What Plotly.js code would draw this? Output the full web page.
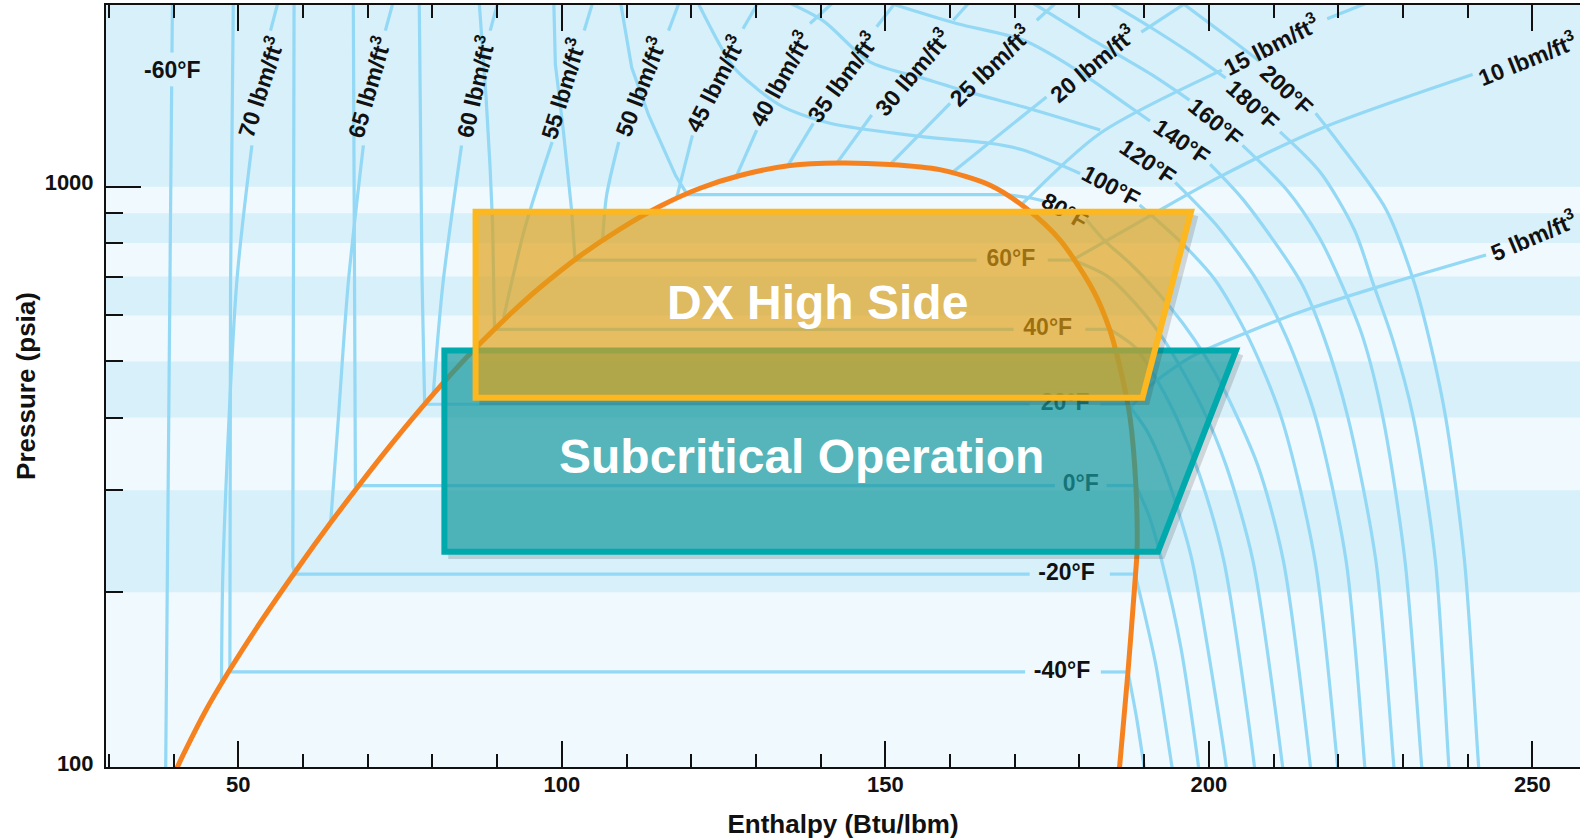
<!DOCTYPE html>
<html><head><meta charset="utf-8">
<script src="https://cdn.plot.ly/plotly-3.0.1.min.js"></script>
<style>html,body{margin:0;padding:0;background:#fff;}</style>
</head><body>
<div id="chart" style="width:1580px;height:839px"></div>
<script>
// ---------- DATA (enthalpy Btu/lbm, pressure psia) ----------
// saturation dome
const domeH = [40.2, 40.6, 44.85, 48.71, 53.35, 59.54, 64.17, 68.81, 73.44, 78.08, 82.72, 87.35, 91.99, 96.62, 102.81, 108.99, 115.17, 121.35, 127.53, 135.26, 142.99, 150.7, 158.4, 166.2, 171.8, 177.0, 182.1, 184.7, 186.6, 187.8, 188.7, 188.9, 188.6, 187.5, 186.2, 186.1];
const domeP = [97, 100, 124.4, 147.2, 177.1, 222.9, 262.7, 307.4, 357.6, 413.0, 473.0, 536.6, 602.9, 670.3, 760.0, 845.2, 925.2, 993.7, 1045.4, 1087.7, 1098.7, 1092, 1070, 1006, 917, 809, 663, 566, 470, 401, 308, 236.5, 210, 146, 100, 96];

// isotherms (null = gap for label)
const tm60H = [38.76, 39.24, 39.70, null, 39.75, 39.83];
const tm60P = [95, 400, 1489, null, 1703, 2100];
const tm40H = [49.23, 48.8, 48.7, 171.6, null, 183.3, 187.5, 188.8, 190.0, 190.3];
const tm40P = [2100, 680, 145.8, 145.8, null, 145.8, 145.8, 122, 100, 95];
const tm20H = [58.62, 58.45, 58.42, 58.74, 172.3, null, 184.7, 188.6, 190.0, 191.8, 194.3, 194.6];
const tm20P = [2100, 600, 222, 215, 215, null, 215, 215, 185, 150, 100, 95];
const t0H = [67.77, 68.0, 68.05, 68.1, 176.2, null, 184.2, 188.7, 190.8, 192.7, 195.7, 198.4, 198.6];
const t0P = [2100, 690, 330, 305.5, 305.5, null, 305.5, 305.5, 270, 227, 160, 100, 95];
const t20H = [77.96, 78.4, 78.8, 172.3, null, 183.2, 187.5, 190.4, 192.9, 195.1, 197.4, 202.7, 202.9];
const t20P = [2100, 690, 421.8, 421.8, null, 421.8, 421.8, 380, 330, 280, 227, 100, 95];
const t40H = [87.2, 88.3, 88.9, 89.3, 89.6, 169.8, null, 180.9, 184.7, 188.5, 191.2, 195.0, 198.5, 202.3, 207.05, 207.25];
const t40P = [2100, 1421, 1086, 863, 567.8, 567.8, null, 567.8, 567.8, 530, 480, 400, 320, 227, 100, 95];
const t60H = [98.75, 99.0, 100.2, 101.5, 102.05, 164.1, null, 175.1, 179.0, 184.4, 188.6, 192.8, 198.8, 202.7, 206.8, 211.4, 211.6];
const t60P = [2100, 1625, 1259, 913, 747.4, 747.4, null, 747.4, 747.4, 700, 630, 550, 420, 330, 227, 100, 95];
const t80H = [109.0, 110.8, 113.4, 117.6, 119.4, 168.5, 172.0, 175.0, null, 181.0, 183.8, 187.8, 191.8, 196.0, 199.5, 202.4, 207.6, 211.5, 215.7, 215.9];
const t80P = [2100, 1604, 1329, 1044, 969, 969, 958, 942, null, 880, 809, 738, 663, 581, 509, 446, 330, 227, 100, 95];
const t100H = [120.8, 126.5, 130.1, 134.2, 141.45, 155.9, 166.2, 171.3, 180.1, null, 189.3, 195.8, 201.0, 206.1, 211.2, 216.4, 219.9, 220.1];
const t100P = [2100, 1609, 1477, 1373, 1286, 1219, 1188, 1157, 1054, null, 930, 800, 690, 550, 400, 227, 100, 95];
const t120H = [134.1, 140.4, 147.6, 155.9, 163.6, 171.3, 183.2, null, 194.8, 201.5, 207.6, 212.0, 216.5, 221.2, 224.1, 224.3];
const t120P = [2100, 1931, 1641, 1537, 1448, 1373, 1252, null, 1017, 850, 685, 550, 400, 227, 100, 95];
const t140H = [149.0, 161.0, 171.3, 179.6, 186.3, 190.9, null, 200.2, 205.3, 214.2, 217.8, 221.5, 225.8, 228.6, 228.8];
const t140P = [2100, 1911, 1789, 1588, 1410, 1298, null, 1093, 950, 685, 550, 400, 227, 100, 95];
const t160H = [171.9, 175.45, 182.25, 191.1, 197.0, null, 205.2, 212.0, 217.0, 220.5, 223.8, 226.9, 230.3, 232.9, 233.1];
const t160P = [2100, 1988, 1785, 1561, 1410, null, 1178, 989, 820, 680, 550, 400, 227, 100, 95];
const t180H = [183.9, 191.1, 197.4, 202.6, null, 211.0, 217.25, 222.5, 225.4, 228.3, 231.6, 235.0, 237.1, 237.3];
const t180P = [2100, 1879, 1692, 1539, null, 1243, 1058, 842, 680, 550, 400, 227, 100, 95];
const t200H = [195.2, 203.7, 207.8, null, 216.5, 220.0, 227.4, 231.8, 234.0, 236.6, 239.5, 241.7, 241.9];
const t200P = [2100, 1785, 1647, null, 1338, 1193, 913, 680, 550, 400, 227, 100, 95];

// isochores (lbm/ft3)
const d70H = [47.4, 47.65, 49.74, 52.1, null, 54.98, 56.24];
const d70P = [139, 223.7, 680, 1178, null, 1858, 2100];
const d65H = [64.27, 65.42, 66.98, 69.33, null, 72.73, 74.03];
const d65P = [263.5, 393, 680, 1178, null, 1858, 2100];
const d60H = [80.1, 81.62, 84.5, null, 88.93, 90.22];
const d60P = [435, 680, 1178, null, 1858, 2100];
const d55H = [91.0, 94.3, 98.5, null, 103.46, 104.9];
const d55P = [594, 850, 1194, null, 1858, 2100];
const d50H = [106.3, 106.9, 108.8, null, 116.5, 118.3];
const d50P = [807, 963, 1194, null, 1858, 2100];
const d45H = [117.7, 120.18, null, 128.0, 130.6];
const d45P = [952, 1226, null, 1871, 2100];
const d40H = [127.0, 130.12, null, 138.36, 142.4];
const d40P = [1044, 1252, null, 1911, 2100];
const d35H = [134.9, 138.87, null, 148.66, 151.9];
const d35P = [1086, 1286, null, 1886, 2100];
const d30H = [142.5, 147.9, null, 160.5, 163.35];
const d30P = [1098, 1329, null, 1936, 2100];
const d25H = [150.7, 160.0, null, 173.4, 176.9];
const d25P = [1092, 1392, null, 1936, 2100];
const d20H = [160.2, 174.9, null, 189.56, 197.2];
const d20P = [1055, 1428, null, 1846, 2100];
const d15H = [171.0, 183.2, 202.0, null, 218.29, 225.7];
const d15P = [930, 1236, 1588, null, 1948, 2100];
const d10H = [179.16, 190.29, 201.73, 217.25, 240.76];
const d10P = [750, 883, 1040.5, 1259, 1561];
const d5H = [187.6, 191.07, 197.41, 206.37, 215.63, 227.69, 242.83];
const d5P = [412, 455, 510, 563.6, 616.6, 680, 762.7];

// labels
const rhoLabelText = ['70', '65', '60', '55', '50', '45', '40', '35', '30', '25', '20', '15', '10', '5'];
const rhoLabelH = [53.39, 70.12, 86.58, 100.07, 112.08, 123.58, 133.72, 143.25, 154.07, 166.17, 181.99, 209.66, 249.24, 250.17];
const rhoLabelP = [1489, 1489, 1489, 1479, 1489, 1510, 1537, 1547, 1578, 1620, 1636, 1761, 1669, 825];
const rhoLabelAngle = [-72, -74, -77, -73, -69, -63, -61, -54, -50, -44, -40, -27, -22, -23];

const tLabelText = ['100°F', '120°F', '140°F', '160°F', '180°F', '200°F'];
const tLabelH = [184.87, 190.6, 195.9, 201.04, 206.79, 212.01];
const tLabelP = [1002, 1103, 1195, 1294, 1384, 1469];
const tLabelAngle = [28, 34, 34, 39, 42, 43];

const t80Label = {text: '80°F', h: 177.9, p: 915, angle: 30};
const tm60Label = {text: '-60°F', h: 39.8, p: 1588};

const satLabelText = ['60°F', '40°F', '20°F', '0°F', '-20°F', '-40°F'];
const satLabelH = [169.4, 175.1, 177.8, 180.2, 178.0, 177.3];
const satLabelP = [747.4, 567.8, 421.8, 305.5, 215, 145.8];

// operating regions
const dxBoxH = [86.67, 197.24, 189.74, 86.67];
const dxBoxP = [905.7, 905.7, 433, 433];
const subBoxH = [81.85, 204.19, 192.14, 81.85];
const subBoxP = [522, 522, 235, 235];
const dxText = {text: 'DX High Side', h: 139.47, p: 632};
const subText = {text: 'Subcritical Operation', h: 136.97, p: 343};

// axis ticks / bands
const xMajor = [50, 100, 150, 200, 250];
const yMajor = [100, 1000];
const yMinor = [200, 300, 400, 500, 600, 700, 800, 900];
const bandLo = [200, 400, 600, 800, 1000];
const bandHi = [300, 500, 700, 900, 2100];

// ---------- STYLE ----------
const FONT = '"Liberation Sans", Arial, Helvetica, sans-serif';
const BLUE = '#93d8f5';
const ORANGE = '#f5821f';
const INK = '#111111';

const traces = [];
function addLine(h, p, color, width, smooth) {
  traces.push({type: 'scatter', mode: 'lines', x: h, y: p, hoverinfo: 'skip', connectgaps: false,
    line: {color: color, width: width, shape: smooth ? 'spline' : 'linear', smoothing: 0.8}});
}
// subcritical isotherm: liquid + two-phase part straight, superheated vapour part smooth
function addSubcritical(h, p) {
  let i0 = -1;
  for (let i = 0; i < p.length - 1; i++) { if (p[i] !== null && p[i] === p[i + 1]) { i0 = i; break; } }
  if (i0 < 0) { addLine(h, p, BLUE, 3.2, false); return; }
  const ps = p[i0];
  let j = i0;
  for (let i = i0; i < p.length; i++) { if (p[i] === ps) j = i; }
  addLine(h.slice(0, j + 1), p.slice(0, j + 1), BLUE, 3.2, false);
  addLine(h.slice(j), p.slice(j), BLUE, 3.2, true);
}
[[tm60H, tm60P], [tm40H, tm40P], [tm20H, tm20P], [t0H, t0P], [t20H, t20P], [t40H, t40P], [t60H, t60P], [t80H, t80P]]
  .forEach(a => addSubcritical(a[0], a[1]));
[[t100H, t100P], [t120H, t120P], [t140H, t140P], [t160H, t160P], [t180H, t180P], [t200H, t200P]]
  .forEach(a => addLine(a[0], a[1], BLUE, 3.2, true));
[[d70H, d70P], [d65H, d65P], [d60H, d60P], [d55H, d55P], [d50H, d50P], [d45H, d45P], [d40H, d40P], [d35H, d35P],
 [d30H, d30P], [d25H, d25P], [d20H, d20P], [d15H, d15P], [d10H, d10P], [d5H, d5P]]
  .forEach(a => addLine(a[0], a[1], BLUE, 3.2, true));
addLine(domeH, domeP, ORANGE, 5, true);

traces.push({type: 'scatter', mode: 'text', x: satLabelH, y: satLabelP, hoverinfo: 'skip',
  text: satLabelText.map(t => '<b>' + t + '</b>'), textposition: 'middle center',
  textfont: {family: FONT, size: 23, color: INK}});

const shapes = [];
bandLo.forEach((lo, i) => shapes.push({type: 'rect', layer: 'below', xref: 'paper', x0: 0, x1: 1, yref: 'y',
  y0: lo, y1: bandHi[i], fillcolor: '#d7f0fa', line: {width: 0}}));

// 80F label sits under the DX box
shapes.push({type: 'line', layer: 'above', xref: 'x', yref: 'y',
  x0: t80Label.h - 1, x1: t80Label.h + 1, y0: t80Label.p * 1.004, y1: t80Label.p / 1.004,
  line: {width: 0, color: 'rgba(0,0,0,0)'},
  label: {text: '<b>' + t80Label.text + '</b>', textangle: t80Label.angle, textposition: 'middle',
    xanchor: 'center', yanchor: 'middle', padding: 0, font: {family: FONT, size: 23, color: INK}}});

function pathOf(H, P, close) {
  let s = 'M ' + H[0] + ',' + P[0];
  for (let i = 1; i < H.length; i++) s += ' L ' + H[i] + ',' + P[i];
  return close ? s + ' Z' : s;
}
// soft shadow along bottom/right edge (offset ~4px)
function shadowPath(H, P) {
  const dh = 0.6, fp = 0.985;
  return pathOf([H[3] + dh, H[2] + dh, H[1] + dh], [P[3] * fp, P[2] * fp, P[1] * fp], false);
}
shapes.push({type: 'path', layer: 'above', xref: 'x', yref: 'y', path: shadowPath(subBoxH, subBoxP),
  line: {color: 'rgba(40,40,40,0.17)', width: 7}, fillcolor: 'rgba(0,0,0,0)'});
shapes.push({type: 'path', layer: 'above', xref: 'x', yref: 'y', path: pathOf(subBoxH, subBoxP, true),
  line: {color: '#00a9ac', width: 6}, fillcolor: 'rgba(25,154,159,0.72)'});
shapes.push({type: 'path', layer: 'above', xref: 'x', yref: 'y', path: shadowPath(dxBoxH, dxBoxP),
  line: {color: 'rgba(40,40,40,0.17)', width: 7}, fillcolor: 'rgba(0,0,0,0)'});
shapes.push({type: 'path', layer: 'above', xref: 'x', yref: 'y', path: pathOf(dxBoxH, dxBoxP, true),
  line: {color: '#fdb71f', width: 6}, fillcolor: 'rgba(225,160,20,0.67)'});

const annotations = [];
function addAnn(text, h, p, angle, size, color) {
  annotations.push({xref: 'x', yref: 'y', x: h, y: Math.log10(p), text: '<b>' + text + '</b>', showarrow: false,
    textangle: angle, xanchor: 'center', yanchor: 'middle', font: {family: FONT, size: size, color: color}});
}
rhoLabelText.forEach((t, i) => addAnn(t + ' lbm/ft<sup>3</sup>', rhoLabelH[i], rhoLabelP[i], rhoLabelAngle[i], 23, INK));
tLabelText.forEach((t, i) => addAnn(t, tLabelH[i], tLabelP[i], tLabelAngle[i], 23, INK));
addAnn(tm60Label.text, tm60Label.h, tm60Label.p, 0, 23, INK);
addAnn(dxText.text, dxText.h, dxText.p, 0, 48, '#ffffff');
addAnn(subText.text, subText.h, subText.p, 0, 48, '#ffffff');

const layout = {
  width: 1580, height: 839,
  margin: {l: 106, r: 0, t: 5, b: 72},
  paper_bgcolor: '#ffffff', plot_bgcolor: '#f0f9fd',
  font: {family: FONT, color: INK},
  showlegend: false,
  xaxis: {
    range: [29.553, 257.356], showgrid: false, zeroline: false,
    showline: true, linecolor: INK, linewidth: 2, mirror: 'ticks',
    ticks: 'inside', ticklen: 26, tickwidth: 2, tickcolor: INK,
    tickmode: 'array', tickvals: xMajor, ticktext: xMajor.map(v => '<b>' + v + '</b>'),
    tickfont: {family: FONT, size: 22, color: INK}, ticklabelstandoff: -3,
    minor: {tickmode: 'linear', tick0: 0, dtick: 10, ticks: 'inside', ticklen: 13, tickwidth: 2, tickcolor: INK, showgrid: false},
    title: {text: '<b>Enthalpy (Btu/lbm)</b>', font: {family: FONT, size: 26, color: INK}, standoff: 18}
  },
  yaxis: {
    type: 'log', range: [2, 3.31311], showgrid: false, zeroline: false,
    showline: true, linecolor: INK, linewidth: 2, mirror: false,
    ticks: 'inside', ticklen: 35, tickwidth: 2, tickcolor: INK,
    tickmode: 'array', tickvals: yMajor, ticktext: yMajor.map(v => '<b>' + v + '</b>'),
    tickfont: {family: FONT, size: 22, color: INK}, ticklabelstandoff: 6, ticklabelshift: -4,
    minor: {tickmode: 'array', tickvals: yMinor, ticks: 'inside', ticklen: 17, tickwidth: 2, tickcolor: INK, showgrid: false},
    title: {text: '<b>Pressure (psia)</b>', font: {family: FONT, size: 26, color: INK}, standoff: 2}
  },
  shapes: shapes,
  annotations: annotations
};
Plotly.newPlot('chart', traces, layout, {displayModeBar: false, staticPlot: true});
</script>
</body></html>
